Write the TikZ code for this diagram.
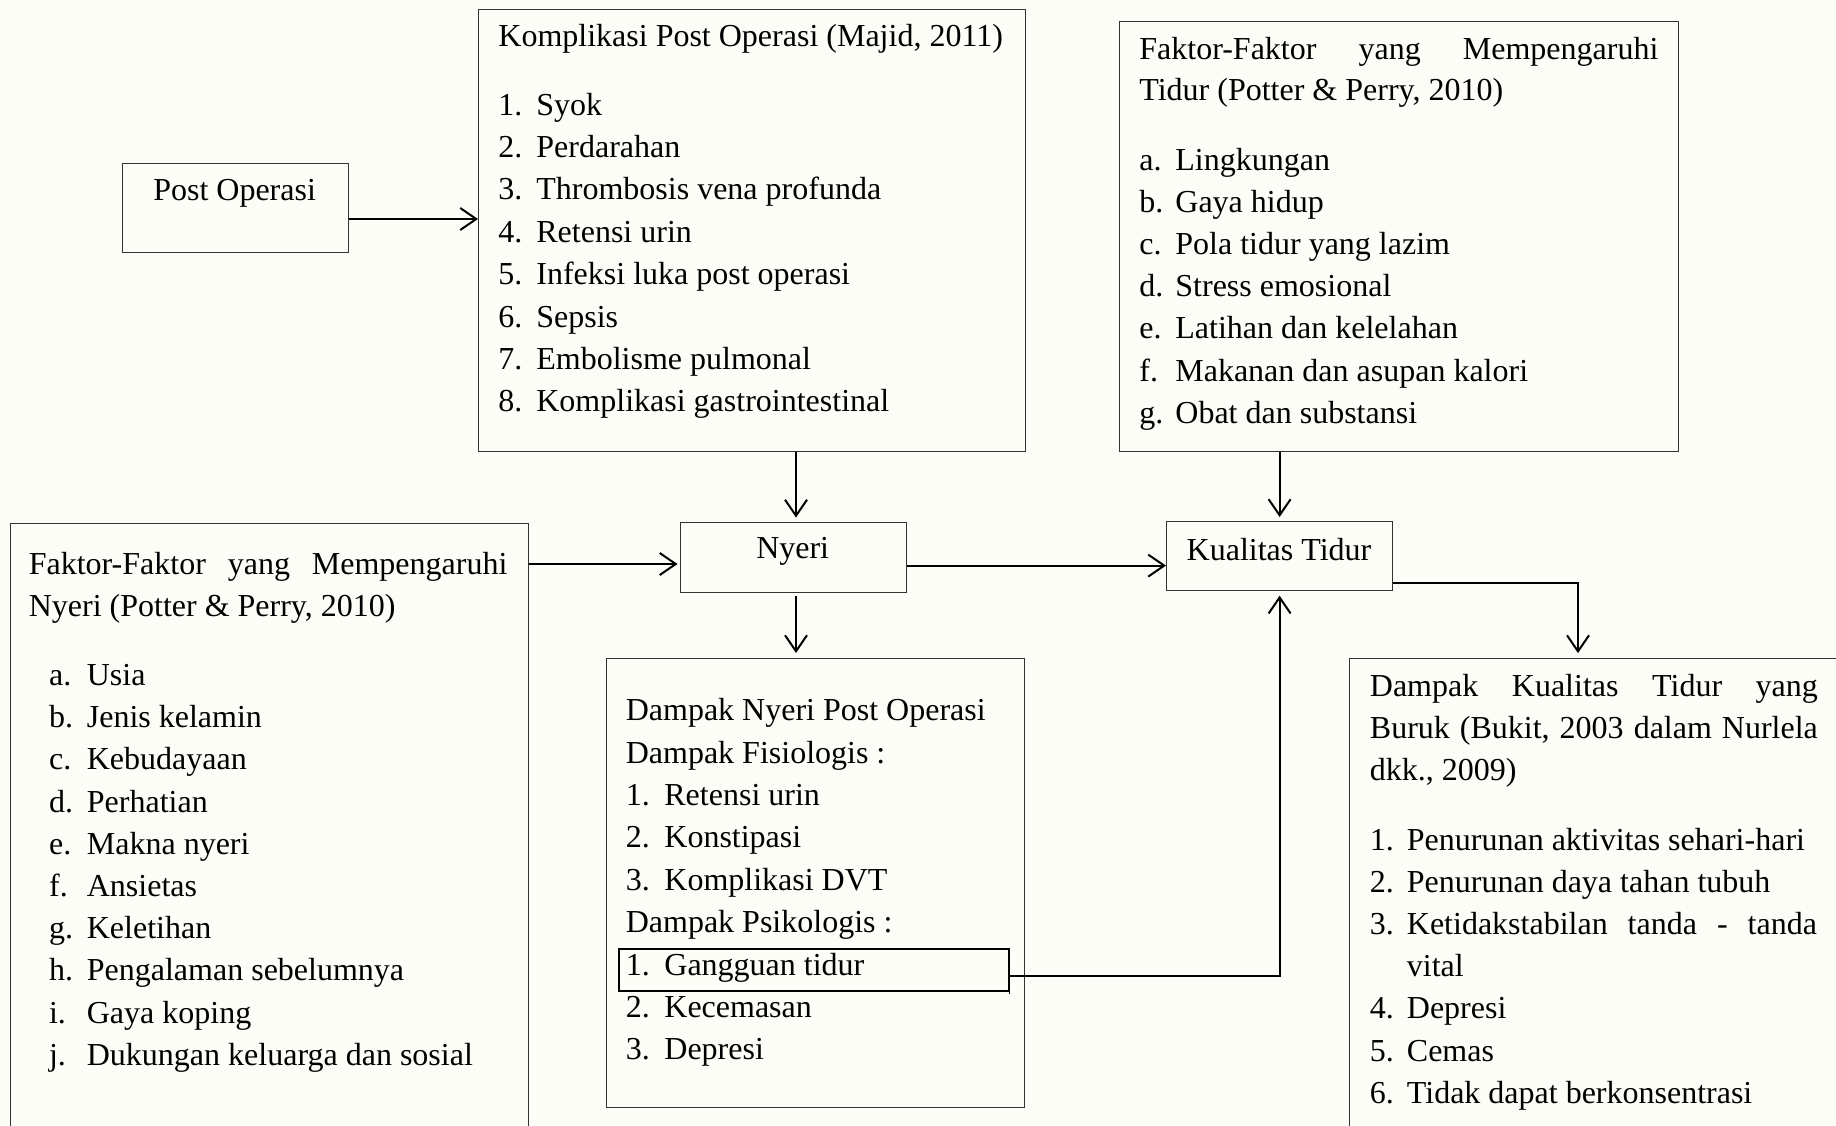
\documentclass[tikz,border=0pt]{standalone}
\usepackage{fontspec}
\setmainfont{Liberation Serif}
\usetikzlibrary{arrows.meta,calc}
\definecolor{bgc}{RGB}{253,253,247}
\tikzset{
  box/.style={draw=black!80, line width=0.6pt, inner sep=0pt, anchor=north west},
  txt/.style={inner sep=0pt, anchor=base west, font=\fontsize{16pt}{21.2pt}\selectfont},
  ctxt/.style={inner sep=0pt, anchor=base, font=\fontsize{16pt}{21.2pt}\selectfont},
  arr/.style={line width=1pt, -{Straight Barb[length=8pt,width=11pt]}},
}
\newcommand\itm[3][19pt]{\hbox{\hbox to #1{#2\hfil}#3}}
\begin{document}
\begin{tikzpicture}[x=0.5pt,y=-0.5pt]
\useasboundingbox (0,0) rectangle (1836,1125);
\clip (0,0) rectangle (1836,1125);
\fill[bgc] (0,0) rectangle (1836,1125);

% boxes
\node[box, minimum width=112.75pt, minimum height=44.5pt] (post) at (122,163) {};
\node[box, minimum width=273.25pt, minimum height=221pt] (komp) at (478,8.5) {};
\node[box, minimum width=279.75pt, minimum height=215pt] (ftidur) at (1118.5,20.5) {};
\node[box, minimum width=259.25pt, minimum height=310pt] (fnyeri) at (9.5,523) {};
\node[box, minimum width=113.25pt, minimum height=35pt] (nyeri) at (679.5,521.5) {};
\node[box, minimum width=113pt, minimum height=34.25pt] (kual) at (1166,521) {};
\node[box, minimum width=209pt, minimum height=224.5pt] (dnyeri) at (606,658) {};
\node[box, minimum width=260pt, minimum height=250pt] (dkual) at (1348.7,657.7) {};
\node[box, draw=black, line width=0.8pt, minimum width=195pt, minimum height=21pt] (gang) at (618,948) {};
\draw[line width=0.8pt] (gang.south east) -- ++(0,2.7);

% texts
\node[ctxt] (posttxt) at (234.6,200) {Post Operasi};
\node[ctxt] (nyeritxt) at (792.7,558) {Nyeri};
\node[ctxt] (kualtxt) at (1279,560) {Kualitas Tidur};

\node[txt] (komptitle) at (498,46.7) {Komplikasi Post Operasi (Majid, 2011)};
\node[txt] (komplist) at (498,115) {\parbox[t]{260pt}{\setlength\baselineskip{21.2pt}%
  \itm{1.}{Syok}\itm{2.}{Perdarahan}\itm{3.}{Thrombosis vena profunda}\itm{4.}{Retensi urin}%
  \itm{5.}{Infeksi luka post operasi}\itm{6.}{Sepsis}\itm{7.}{Embolisme pulmonal}%
  \itm{8.}{Komplikasi gastrointestinal}}};

\node[txt] (ftidurtitle) at (1139,59.3) {\parbox[t]{259.5pt}{\setlength\baselineskip{20.35pt}%
  \hbox to 259.5pt{Faktor-Faktor\hfill yang\hfill Mempengaruhi}%
  \hbox{Tidur (Potter \& Perry, 2010)}}};
\node[txt] (ftidurlist) at (1139,170) {\parbox[t]{259.5pt}{\setlength\baselineskip{21.1pt}%
  \itm[18pt]{a.}{Lingkungan}\itm[18pt]{b.}{Gaya hidup}\itm[18pt]{c.}{Pola tidur yang lazim}%
  \itm[18pt]{d.}{Stress emosional}\itm[18pt]{e.}{Latihan dan kelelahan}%
  \itm[18pt]{f.}{Makanan dan asupan kalori}\itm[18pt]{g.}{Obat dan substansi}}};

\node[txt] (fnyerititle) at (28.4,574) {\parbox[t]{239.3pt}{\setlength\baselineskip{21pt}%
  \hbox to 239.3pt{Faktor-Faktor\hfill yang\hfill Mempengaruhi}%
  \hbox{Nyeri (Potter \& Perry, 2010)}}};
\node[txt] (fnyerilist) at (48.7,685.5) {\parbox[t]{239.3pt}{\setlength\baselineskip{21.1pt}%
  \itm[18.9pt]{a.}{Usia}\itm[18.9pt]{b.}{Jenis kelamin}\itm[18.9pt]{c.}{Kebudayaan}%
  \itm[18.9pt]{d.}{Perhatian}\itm[18.9pt]{e.}{Makna nyeri}\itm[18.9pt]{f.}{Ansietas}%
  \itm[18.9pt]{g.}{Keletihan}\itm[18.9pt]{h.}{Pengalaman sebelumnya}%
  \itm[18.9pt]{i.}{Gaya koping}\itm[18.9pt]{j.}{Dukungan keluarga dan sosial}}};

\node[txt] (dnyerilist) at (625.4,720.6) {\parbox[t]{190pt}{\setlength\baselineskip{21.2pt}%
  \hbox{Dampak Nyeri Post Operasi}\hbox{Dampak Fisiologis :}%
  \itm[19.3pt]{1.}{Retensi urin}\itm[19.3pt]{2.}{Konstipasi}\itm[19.3pt]{3.}{Komplikasi DVT}%
  \hbox{Dampak Psikologis :}%
  \itm[19.3pt]{1.}{Gangguan tidur}\itm[19.3pt]{2.}{Kecemasan}\itm[19.3pt]{3.}{Depresi}}};

\node[txt] (dkualtitle) at (1369.5,696) {\parbox[t]{224pt}{\setlength\baselineskip{21pt}%
  \hbox to 224pt{Dampak\hfill Kualitas\hfill Tidur\hfill yang}%
  \hbox to 224pt{Buruk\hfill (Bukit,\hfill 2003\hfill dalam\hfill Nurlela}%
  \hbox{dkk., 2009)}}};
\node[txt] (dkuallist) at (1369.5,850) {\parbox[t]{224pt}{\setlength\baselineskip{21.1pt}%
  \itm[18.5pt]{1.}{Penurunan aktivitas sehari-hari}\itm[18.5pt]{2.}{Penurunan daya tahan tubuh}%
  \itm[18.5pt]{3.}{\hbox to 205pt{Ketidakstabilan\hfill tanda\hfill -\hfill tanda}}%
  \itm[18.5pt]{}{vital}\itm[18.5pt]{4.}{Depresi}\itm[18.5pt]{5.}{Cemas}%
  \itm[18.5pt]{6.}{Tidak dapat berkonsentrasi}}};

% connectors
\draw[arr] (post.east |- 0,219) -- (komp.west |- 0,219);
\draw[arr, shorten >=2pt] (komp.south -| 796,0) -- (nyeri.north -| 796,0);
\draw[arr, shorten <=1.75pt, shorten >=2.5pt] (nyeri.south -| 796,0) -- (dnyeri.north -| 796,0);
\draw[arr, shorten >=1pt] (fnyeri.east |- 0,564) -- (nyeri.west |- 0,564);
\draw[arr] (nyeri.east |- 0,565.6) -- (kual.west |- 0,565.6);
\draw[arr, shorten >=2pt] (ftidur.south -| kual.north) -- (kual.north);
\draw[arr, shorten >=2.5pt] (gang.east |- 0,975.7) -| (kual.south);
\draw[arr, shorten >=2.3pt] (kual.east |- 0,582.7) -| (dkual.north -| 1578,0);
\end{tikzpicture}
\end{document}
